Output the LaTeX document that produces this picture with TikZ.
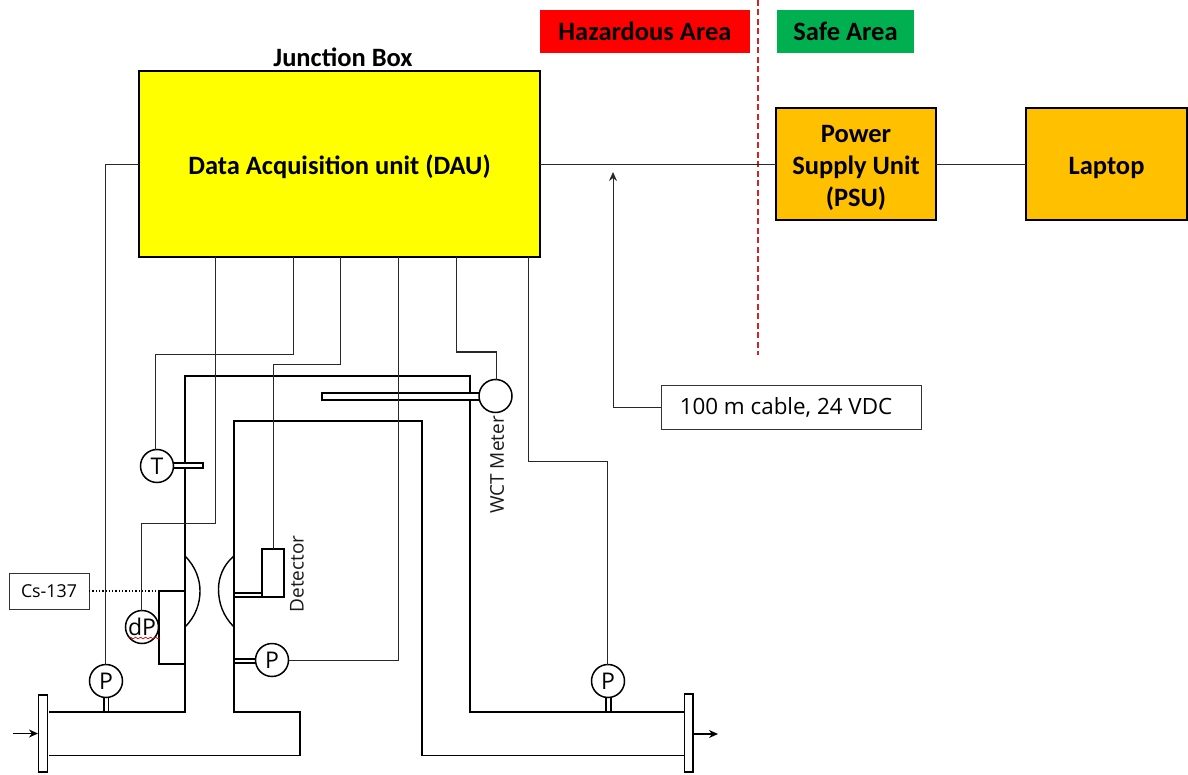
\documentclass[tikz,border=0pt]{standalone}
\usepackage{fontspec}
\setmainfont{Carlito}
\newfontfamily\thinf{Open Sans}
\usetikzlibrary{arrows.meta,decorations.pathmorphing}
\definecolor{amber}{RGB}{255,192,0}
\definecolor{safeg}{RGB}{0,176,80}
\definecolor{wire}{RGB}{40,40,40}
\definecolor{pureyellow}{RGB}{255,255,0}
\definecolor{purered}{RGB}{255,0,0}
\definecolor{dashred}{RGB}{220,30,40}
\newcommand\dnstrut{\rule{0pt}{26pt}}
\tikzset{
  x=1pt,y=-1pt,
  hdr/.style={font=\fontsize{26.5}{32}\selectfont\bfseries,align=center},
  mainbox/.style={draw=black,line width=1.8pt,inner sep=0pt,outer sep=0pt,hdr},
  area/.style={inner sep=0pt,outer sep=0pt,hdr},
  wirel/.style={draw=wire,line width=1pt},
  pipe/.style={draw=black,line width=1.8pt,line join=miter},
  inst/.style={circle,draw=black,line width=1.5pt,fill=white,minimum size=33pt,inner sep=0pt,outer sep=0pt,font=\thinf\fontsize{23}{24}\selectfont},
  stem/.style={draw=black,line width=1.3pt,fill=white},
  lbl/.style={draw=black!80,line width=0.8pt,fill=white,inner sep=0pt,outer sep=0pt,text=black},
  tiny/.style={inner sep=0pt,font=\thinf\fontsize{19}{20}\selectfont,text=black!90,rotate=90},
  flow/.style={draw=black,line width=1.5pt,-{Stealth[length=9pt,width=8pt]}}
}
\begin{document}
\begin{tikzpicture}
\useasboundingbox (0,0) rectangle (1188,775);
% area labels
\node[area,fill=purered,minimum width=210pt,minimum height=43pt] (haz) at (645,31.5) {Hazardous Area};
\node[area,fill=safeg,minimum width=137pt,minimum height=43pt] (safe) at (845.5,31.5) {Safe Area};
\coordinate (divtop) at (758,0);
\coordinate (divbot) at (758,355);
\draw[dashred,line width=1.4pt,dash pattern=on 6pt off 3.5pt] (divtop) -- (divbot);
% main boxes
\node[mainbox,fill=pureyellow,minimum width=401pt,minimum height=186pt] (dau) at (339.5,164) {\dnstrut Data Acquisition unit (DAU)};
\node[hdr,inner sep=0pt] (jb) at (343,57) {Junction Box};
\node[mainbox,fill=amber,minimum width=160pt,minimum height=112pt] (psu) at (856,164) {\dnstrut Power\\Supply Unit\\(PSU)};
\node[mainbox,fill=amber,minimum width=161pt,minimum height=112pt] (lap) at (1106.5,164) {\dnstrut Laptop};
\node[lbl,font=\thinf\fontsize{22.4}{24}\selectfont,minimum width=260pt,minimum height=44pt] (cable) at (791,407) {100 m cable, 24 VDC\hspace*{10pt}};
\node[lbl,font=\thinf\fontsize{17.8}{18}\selectfont,minimum width=80pt,minimum height=36pt] (cs) at (49,591) {Cs-137};
% pipes
\draw[pipe] (49,712) -- (185,712) -- (185,376) -- (470,376) -- (470,712) -- (685,712);
\draw[pipe] (49,755.5) -- (300,755.5) -- (300,712) -- (234,712) -- (234,421) -- (422,421) -- (422,755.5) -- (685,755.5);
% venturi arcs
\draw[pipe,line width=1.4pt] (185,556) .. controls (196,567) and (200,580) .. (200,591) .. controls (200,603) and (196,616) .. (185,627);
\draw[pipe,line width=1.4pt] (234,556) .. controls (223,565) and (218.5,578) .. (218.5,589) .. controls (218.5,603) and (223,616) .. (234,627);
% flanges
\draw[pipe,line width=1.5pt,fill=white] (38.5,695) rectangle (47.5,772);
\draw[pipe,line width=1.5pt,fill=white] (684.5,694) rectangle (693,772);
\coordinate (inA) at (13,733.5); \coordinate (inB) at (38,733.5);
\coordinate (outA) at (693,734); \coordinate (outB) at (718,734);
\draw[flow] (inA) -- (inB);
\draw[flow] (outA) -- (outB);
% stems
\draw[stem] (104,697) rectangle (108.5,712);
\draw[stem] (606,697) rectangle (611,712);
\draw[stem] (172,463) rectangle (203,468);
\draw[stem] (322,393) rectangle (480,400);
\draw[stem] (234.5,659) rectangle (258,663);
\draw[stem] (234.5,593) rectangle (262,597);
% dP transmitter, detector
\draw[pipe,fill=white] (159,591) rectangle (185,664);
\node[draw=black,line width=1.8pt,fill=white,minimum width=22pt,minimum height=48pt,inner sep=0pt,outer sep=0pt] (det) at (273,573) {};
% instruments
\node[inst] (p1) at (106,681) {P};
\node[inst] (p2) at (608,681) {P};
\node[inst] (p3) at (272,660) {P};
\node[inst] (t) at (157,466) {T};
\node[inst] (wct) at (495.5,396) {};
\node[inst] (dp) at (142,627) {dP};
\draw[red!80!black,line width=0.7pt,decorate,decoration={snake,amplitude=0.8pt,segment length=5pt}] (129,638) -- (160,638);
% labels
\node[tiny] (wl) at (497,465) {WCT Meter};
\node[tiny] (dl) at (297,574) {Detector};
% wires
\coordinate (w1) at (215,257);
\coordinate (w2) at (293,257);
\coordinate (w3) at (340,257);
\coordinate (w4) at (398,257);
\coordinate (w5) at (456,257);
\coordinate (w6) at (528,257);
\draw[wirel] (dau.west |- 0,165) -- (105,165) -- (p1.north -| 105,0);
\draw[wirel] (w1) -- (215,523) -- (141,523) -- (dp.north -| 141,0);
\draw[wirel] (w2) -- (293,354) -- (155,354) -- (t.north -| 155,0);
\draw[wirel] (w3) -- (340,364) -- (273,364) -- (det.north);
\draw[wirel] (w4) -- (398,660) -- (p3.east);
\draw[wirel] (w5) -- (456,352) -- (496,352) -- (wct.north -| 496,0);
\draw[wirel] (w6) -- (528,461) -- (607,461) -- (p2.north -| 607,0);
\draw[wirel] (dau.east |- 0,165) -- (psu.west |- 0,165);
\draw[wirel] (psu.east |- 0,165) -- (lap.west |- 0,165);
\draw[wirel,-{Stealth[length=9pt,width=8pt]}] (cable.west) -- (613,407) -- (613,172);
\draw[black,line width=1.3pt,dotted] (cs.east) -- (159,591);
\end{tikzpicture}
\end{document}
